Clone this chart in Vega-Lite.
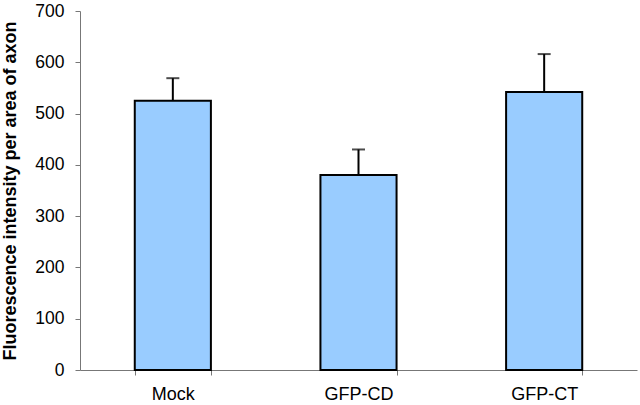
{
  "$schema": "https://vega.github.io/schema/vega-lite/v6.json",
  "width": 557,
  "height": 359,
  "autosize": "none",
  "padding": {"left": 80, "top": 11, "right": 3, "bottom": 35},
  "background": "white",
  "config": {"view": {"stroke": null}, "font": "Liberation Sans"},
  "data": {"values": [
    {"group": "Mock", "value": 525, "upper": 569},
    {"group": "GFP-CD", "value": 380, "upper": 430},
    {"group": "GFP-CT", "value": 542, "upper": 616}
  ]},
  "encoding": {
    "x": {
      "field": "group", "type": "nominal", "sort": null,
      "scale": {"paddingInner": 0.59, "paddingOuter": 0.295},
      "axis": {
        "title": null, "labelAngle": 0, "labelFontSize": 18, "labelColor": "black",
        "labelPadding": 10, "tickBand": "extent", "tickSize": 5,
        "domainColor": "#777", "tickColor": "#777", "domainWidth": 1
      }
    }
  },
  "layer": [
    {
      "mark": {"type": "rule", "color": "black", "strokeWidth": 2},
      "encoding": {
        "y": {"field": "value", "type": "quantitative"},
        "y2": {"field": "upper"}
      }
    },
    {
      "mark": {"type": "tick", "color": "black", "thickness": 2, "size": 13},
      "encoding": {"y": {"field": "upper", "type": "quantitative"}}
    },
    {
      "mark": {"type": "bar", "fill": "#99CCFF", "stroke": "black", "strokeWidth": 2},
      "encoding": {
        "y": {
          "field": "value", "type": "quantitative",
          "scale": {"domain": [0, 700], "nice": false},
          "axis": {
            "title": "Fluorescence intensity per area of axon",
            "titleFontSize": 18, "titleFontWeight": "bold", "titleColor": "black",
            "titlePadding": 15,
            "values": [0, 100, 200, 300, 400, 500, 600, 700],
            "labelFontSize": 17.5, "labelColor": "black", "labelPadding": 11,
            "tickSize": 5, "grid": false,
            "domainColor": "#777", "tickColor": "#777"
          }
        }
      }
    }
  ]
}
